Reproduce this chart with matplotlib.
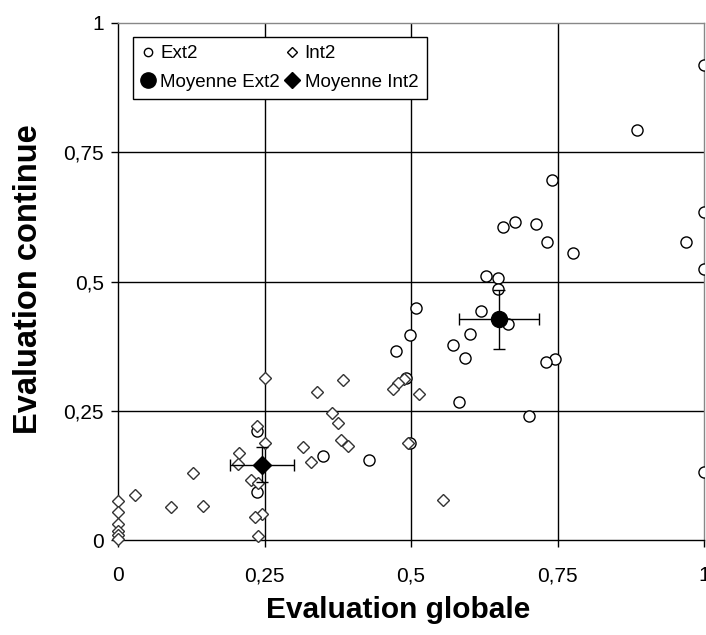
import matplotlib
matplotlib.use('Agg')
import matplotlib.pyplot as plt
from matplotlib.lines import Line2D

plt.rcParams['font.family'] = ['Liberation Sans', 'DejaVu Sans']

# Ext2 (ronds)
ext2_x = [1.0, 0.885, 0.740, 1.0, 0.6775, 0.7128, 0.6575, 0.969, 0.732, 0.776,
          1.0, 0.628, 0.648, 0.648, 0.5085, 0.619, 0.666, 0.6007, 0.498, 0.571,
          0.4744, 0.593, 0.745, 0.730, 0.4915, 0.5813, 0.702, 0.2367, 0.498,
          0.3504, 0.4289, 1.0, 0.2377]
ext2_y = [0.919, 0.794, 0.696, 0.634, 0.615, 0.611, 0.606, 0.577, 0.577, 0.555,
          0.524, 0.511, 0.506, 0.485, 0.448, 0.442, 0.418, 0.399, 0.397, 0.377,
          0.366, 0.352, 0.350, 0.345, 0.313, 0.266, 0.239, 0.211, 0.187,
          0.163, 0.154, 0.131, 0.093]

# Int2 (losanges)
int2_x = [0.25, 0.3834, 0.4886, 0.477, 0.4687, 0.340, 0.513, 0.3657, 0.376,
          0.2377, 0.3805, 0.2509, 0.4943, 0.392, 0.3163, 0.207, 0.3288, 0.2053,
          0.1285, 0.227, 0.2395, 0.029, 0.0, 0.090, 0.1445, 0.0, 0.554, 0.2463,
          0.2338, 0.0, 0.0, 0.0, 0.2395, 0.0]
int2_y = [0.313, 0.3095, 0.312, 0.304, 0.2915, 0.2857, 0.2818, 0.245, 0.2257,
          0.2205, 0.1934, 0.187, 0.187, 0.1824, 0.1805, 0.168, 0.1515, 0.147,
          0.130, 0.116, 0.111, 0.088, 0.076, 0.064, 0.066, 0.054, 0.077, 0.0503,
          0.0439, 0.030, 0.018, 0.010, 0.0077, 0.002]

# moyennes et ecarts
moy_ext2 = (0.650, 0.427)
err_ext2 = (0.068, 0.057)
moy_int2 = (0.246, 0.146)
err_int2 = (0.055, 0.033)

ticks = [0, 0.25, 0.5, 0.75, 1]
tick_labels = ['0', '0,25', '0,5', '0,75', '1']

fig = plt.figure(figsize=(7.06, 6.35), dpi=100)
ax = fig.add_axes([118 / 706, 95 / 635, 586 / 706, 517 / 635])

ax.plot(ext2_x, ext2_y, 'o', ms=8, mfc='white', mec='black', mew=1, zorder=3)
ax.plot(int2_x, int2_y, 'D', ms=6.2, mfc='white', mec='#333333', mew=1,
        zorder=3, clip_on=False)

ax.errorbar(moy_ext2[0], moy_ext2[1], xerr=err_ext2[0], yerr=err_ext2[1],
            fmt='o', ms=11.5, color='black', ecolor='black', elinewidth=1,
            capsize=4, capthick=1, zorder=4)
ax.errorbar(moy_int2[0], moy_int2[1], xerr=err_int2[0], yerr=err_int2[1],
            fmt='D', ms=9, color='black', ecolor='black', elinewidth=1,
            capsize=4, capthick=1, zorder=4)

ax.set_xlim(0, 1)
ax.set_ylim(0, 1)
ax.set_xticks(ticks)
ax.set_xticklabels(tick_labels)
ax.set_yticks(ticks)
ax.set_yticklabels(tick_labels)
ax.tick_params(direction='out', length=5, width=1, color='black', labelsize=15)
ax.tick_params(axis='x', pad=14)
ax.tick_params(axis='y', pad=5)

for v in [0.25, 0.5, 0.75]:
    ax.axvline(v, color='black', lw=1, zorder=1)
    ax.axhline(v, color='black', lw=1, zorder=1)

ax.spines['left'].set_color('black')
ax.spines['bottom'].set_color('black')
ax.spines['top'].set_color('#888888')
ax.spines['right'].set_color('#888888')
for s in ax.spines.values():
    s.set_linewidth(1)

ax.set_xlabel('Evaluation globale', fontsize=21.5, fontweight='bold', va='center')
ax.xaxis.set_label_coords(0.478, -0.135)
ax.set_ylabel('Evaluation continue', fontsize=23.5, fontweight='bold', va='center')
ax.yaxis.set_label_coords(-0.153, 0.505)

handles = [
    Line2D([], [], ls='none', marker='o', ms=6, mfc='white', mec='black', mew=1),
    Line2D([], [], ls='none', marker='o', ms=11, color='black'),
    Line2D([], [], ls='none', marker='D', ms=5, mfc='white', mec='black', mew=1),
    Line2D([], [], ls='none', marker='D', ms=8, color='black'),
]
labels = ['Ext2', 'Moyenne Ext2', 'Int2', 'Moyenne Int2']
leg = ax.legend(handles, labels, ncol=2, loc='lower left', mode='expand',
                bbox_to_anchor=(0.0256, 0.853, 0.501, 0.12), fontsize=13.5,
                frameon=True, fancybox=False, edgecolor='black', framealpha=1,
                handlelength=0.7, handletextpad=0.3, borderpad=0.45,
                labelspacing=0.6, borderaxespad=0, columnspacing=0.5)
leg.get_frame().set_linewidth(1)
leg.set_zorder(5)

fig.savefig('out.png', dpi=100)
